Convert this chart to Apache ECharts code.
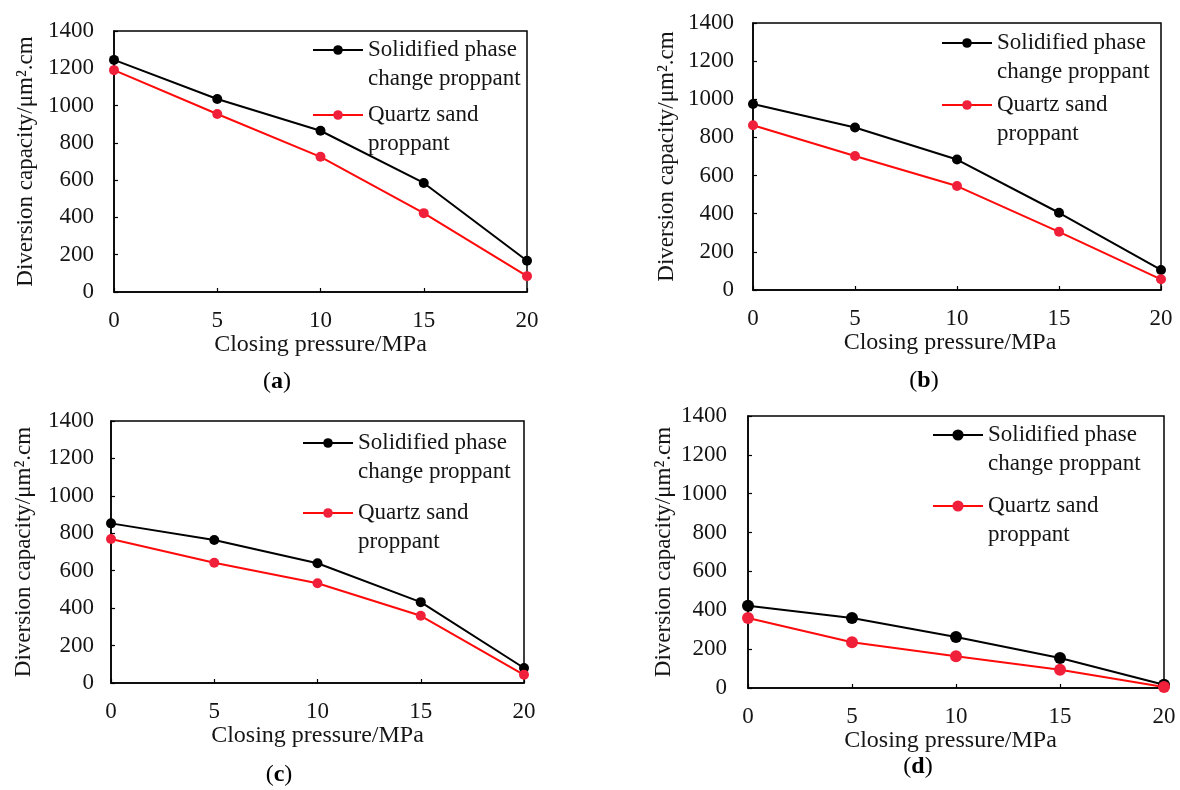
<!DOCTYPE html>
<html>
<head>
<meta charset="utf-8">
<script src="https://cdn.jsdelivr.net/npm/echarts@6/dist/echarts.min.js"></script>
<style>
html,body{margin:0;padding:0;background:#fff;}
#chart{width:1180px;height:790px;}
</style>
</head>
<body>
<div id="chart"></div>
<script>
// ---- data ----
const pressure = [0, 5, 10, 15, 20];
const yTickValues = [0, 200, 400, 600, 800, 1000, 1200, 1400];
const seriesNames = ['Solidified phase change proppant', 'Quartz sand proppant'];
const legendLabels = ['Solidified phase\nchange proppant', 'Quartz sand\nproppant'];
const xAxisTitle = 'Closing pressure/MPa';
const yAxisTitle = 'Diversion capacity/μm².cm';
const panelLabels = ['a', 'b', 'c', 'd'];

const solidA  = [1245, 1035, 865, 585, 168];
const quartzA = [1190, 955, 725, 423, 85];
const solidB  = [975, 852, 684, 405, 105];
const quartzB = [864, 703, 545, 305, 56];
const solidC  = [853, 764, 640, 432, 80];
const quartzC = [769, 643, 533, 359, 44];
const solidD  = [423, 360, 262, 154, 17];
const quartzD = [360, 235, 163, 94, 5];

// ---- layout / style ----
const FONT = 'Liberation Serif';
const TXT = '#151515';
const BLACK = '#000000';
const RED_LINE = '#ff0a0a';
const RED_MARK = '#f0203a';

const panels = [
  {solid: solidA, quartz: quartzA, grid: {left: 114, top: 31, width: 413, height: 261},
   yGap: 77, xGap: 38, xPad: 0, yMargin: 20, xMargin: 17, sym: 10,
   leg: {text: 367, y1: 50, y2: 115, ih: 12}, cap: {x: 277, y: 382}},
  {solid: solidB, quartz: quartzB, grid: {left: 753, top: 23, width: 408, height: 267},
   yGap: 75, xGap: 35, xPad: 14, yMargin: 19, xMargin: 17, sym: 10,
   leg: {text: 996, y1: 43, y2: 105, ih: 12}, cap: {x: 924, y: 381}},
  {solid: solidC, quartz: quartzC, grid: {left: 111, top: 421, width: 413, height: 262},
   yGap: 76, xGap: 37, xPad: 0, yMargin: 17, xMargin: 17, sym: 10,
   leg: {text: 357, y1: 443, y2: 513, ih: 12}, cap: {x: 279, y: 775}},
  {solid: solidD, quartz: quartzD, grid: {left: 748, top: 416, width: 416, height: 272},
   yGap: 73, xGap: 32, xPad: 11, yMargin: 21, xMargin: 17, sym: 12,
   leg: {text: 987, y1: 435, y2: 506, ih: 14}, cap: {x: 918, y: 767}}
];

const grids = [], xAxes = [], yAxes = [], series = [], legends = [], graphics = [];

panels.forEach((p, i) => {
  grids.push(Object.assign({show: true, borderColor: BLACK, borderWidth: 1.5, backgroundColor: 'transparent'}, p.grid));
  xAxes.push({
    type: 'value', gridIndex: i, min: pressure[0], max: pressure[pressure.length - 1], interval: 5,
    name: xAxisTitle, nameLocation: 'middle', nameGap: p.xGap,
    nameTextStyle: {fontFamily: FONT, fontSize: 24, color: TXT, padding: [0, p.xPad, 0, 0]},
    axisLine: {show: true, lineStyle: {color: BLACK, width: 1.5}},
    axisTick: {show: true, inside: true, length: 4, lineStyle: {color: BLACK, width: 1.2}},
    axisLabel: {fontFamily: FONT, fontSize: 23, color: TXT, margin: p.xMargin,
                formatter: (v) => String(v)},
    splitLine: {show: false}
  });
  yAxes.push({
    type: 'value', gridIndex: i, min: yTickValues[0], max: yTickValues[yTickValues.length - 1],
    interval: yTickValues[1] - yTickValues[0],
    name: yAxisTitle, nameLocation: 'middle', nameGap: p.yGap,
    nameTextStyle: {fontFamily: FONT, fontSize: 23, color: TXT},
    axisLine: {show: true, lineStyle: {color: BLACK, width: 1.5}},
    axisTick: {show: true, inside: true, length: 4, lineStyle: {color: BLACK, width: 1.2}},
    axisLabel: {fontFamily: FONT, fontSize: 23, color: TXT, margin: p.yMargin,
                formatter: (v) => String(v)},
    splitLine: {show: false}
  });
  const mk = (vals) => pressure.map((x, k) => [x, vals[k]]);
  series.push({
    type: 'line', name: seriesNames[0], xAxisIndex: i, yAxisIndex: i, data: mk(p.solid),
    symbol: 'circle', symbolSize: p.sym, showSymbol: true,
    lineStyle: {color: BLACK, width: 2}, itemStyle: {color: BLACK}, animation: false
  });
  series.push({
    type: 'line', name: seriesNames[1], xAxisIndex: i, yAxisIndex: i, data: mk(p.quartz),
    symbol: 'circle', symbolSize: p.sym, showSymbol: true,
    lineStyle: {color: RED_LINE, width: 2}, itemStyle: {color: RED_MARK}, animation: false
  });
  [p.leg.y1, p.leg.y2].forEach((iy, j) => {
    legends.push({
      data: [seriesNames[j]], selectedMode: false, orient: 'vertical',
      left: p.leg.text - 55, top: iy - 43.5, padding: 0,
      itemWidth: 50, itemHeight: p.leg.ih,
      // leading blank line keeps the marker level with the first text line
      formatter: (n) => '\n' + legendLabels[seriesNames.indexOf(n)],
      textStyle: {fontFamily: FONT, fontSize: 23, lineHeight: 29, color: TXT}
    });
  });
  graphics.push({
    type: 'text', x: p.cap.x, y: p.cap.y,
    style: {
      text: '{n|(}{b|' + panelLabels[i] + '}{n|)}',
      align: 'center', verticalAlign: 'middle',
      rich: {
        n: {fontFamily: FONT, fontSize: 24, color: TXT},
        b: {fontFamily: FONT, fontSize: 24, fontWeight: 'bold', color: TXT}
      }
    }
  });
});

const chart = echarts.init(document.getElementById('chart'), null, {renderer: 'canvas'});
chart.setOption({
  backgroundColor: '#ffffff',
  animation: false,
  grid: grids, xAxis: xAxes, yAxis: yAxes, series: series,
  legend: legends, graphic: graphics
});
</script>
</body>
</html>
